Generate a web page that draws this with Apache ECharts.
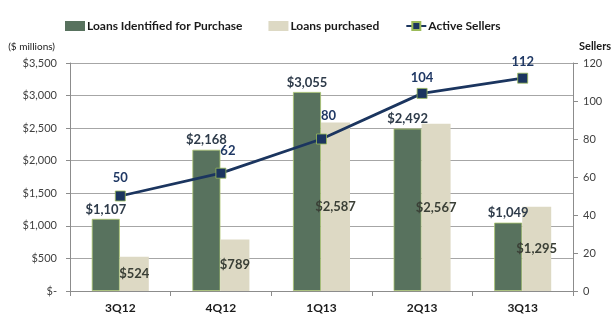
<!DOCTYPE html>
<html>
<head>
<meta charset="utf-8">
<script src="https://cdn.jsdelivr.net/npm/echarts@6/dist/echarts.min.js"></script>
<style>
  html, body { margin: 0; padding: 0; background: #fff; }
  #chart { width: 616px; height: 326px; }
</style>
</head>
<body>
<div id="chart"></div>
<script>
// Quarterly loan activity ($ millions) and number of active sellers
const quarters = ['3Q12', '4Q12', '1Q13', '2Q13', '3Q13'];
const loansIdentified = [1107, 2168, 3055, 2492, 1049];
const loansPurchased = [524, 789, 2587, 2567, 1295];
const activeSellers = [50, 62, 80, 104, 112];

const FONT = 'Lato, "Liberation Sans", sans-serif';
const money = v => '$' + v.toLocaleString('en-US');

// Some seller labels are nudged sideways so they clear the bar labels
const sellerLabelOffsets = [[0, 0], [7, -4], [7, -5], [0, 2], [0, 2]];

const chart = echarts.init(document.getElementById('chart'), null, { renderer: 'canvas' });

chart.setOption({
  animation: false,
  textStyle: { fontFamily: FONT },
  legend: {
    top: 15,
    left: 60,
    itemGap: 26,
    itemWidth: 20,
    itemHeight: 10,
    textStyle: { fontFamily: FONT, fontWeight: 'bold', fontSize: 12, color: '#1a1a1a', padding: [0, 0, 0, -3] },
    data: [
      { name: 'Loans Identified for Purchase', icon: 'rect', itemStyle: { borderWidth: 0 } },
      { name: 'Loans purchased', icon: 'rect' },
      { name: 'Active Sellers' }
    ]
  },
  grid: { left: 70, right: 43, top: 63, bottom: 35 },
  xAxis: {
    type: 'category',
    data: quarters,
    axisLine: { lineStyle: { color: '#8c8c8c', width: 1 } },
    axisTick: { show: true, length: 5, lineStyle: { color: '#8c8c8c' } },
    axisLabel: { color: '#1a1a1a', fontWeight: 'bold', fontSize: 12, margin: 11, fontFamily: FONT }
  },
  yAxis: [
    {
      type: 'value',
      min: 0, max: 3500, interval: 500,
      name: '($ millions)',
      nameLocation: 'end',
      nameGap: 11,
      nameTextStyle: { align: 'right', color: '#1a1a1a', fontSize: 10, padding: [0, 15, 0, 0], fontFamily: FONT },
      axisLine: { show: true, lineStyle: { color: '#8c8c8c' } },
      axisTick: { show: true, length: 4, lineStyle: { color: '#8c8c8c' } },
      axisLabel: {
        color: '#404040', fontSize: 11, margin: 13, fontFamily: FONT,
        formatter: v => v === 0 ? '$-' : money(v)
      },
      splitLine: { show: true, lineStyle: { color: '#a6a6a6', width: 1 } }
    },
    {
      type: 'value',
      min: 0, max: 120, interval: 20,
      name: 'Sellers',
      nameLocation: 'end',
      nameGap: 11,
      nameTextStyle: { align: 'left', color: '#1a1a1a', fontSize: 11, fontWeight: 'bold', padding: [0, 0, 0, 6], fontFamily: FONT },
      axisLine: { show: true, lineStyle: { color: '#8c8c8c' } },
      axisTick: { show: true, length: 5, lineStyle: { color: '#8c8c8c' } },
      axisLabel: { color: '#404040', fontSize: 11, margin: 10, fontFamily: FONT },
      splitLine: { show: false }
    }
  ],
  series: [
    {
      name: 'Loans Identified for Purchase',
      type: 'bar',
      data: loansIdentified,
      barWidth: 28,
      barGap: '0%',
      itemStyle: { color: '#58725e', borderColor: '#a9c46e', borderWidth: 0.8 },
      label: {
        show: true, position: 'top', distance: 3,
        color: '#2e3b4a', fontWeight: 'bold', fontSize: 13, fontFamily: FONT,
        formatter: p => money(p.value)
      }
    },
    {
      name: 'Loans purchased',
      type: 'bar',
      data: loansPurchased,
      barWidth: 29,
      itemStyle: { color: '#ddd9c4' },
      label: {
        show: true, position: 'inside',
        color: '#3a3f36', fontWeight: 'bold', fontSize: 13, fontFamily: FONT,
        formatter: p => money(p.value)
      }
    },
    {
      name: 'Active Sellers',
      type: 'line',
      yAxisIndex: 1,
      data: activeSellers.map((v, i) => ({
        value: v,
        label: { offset: sellerLabelOffsets[i] }
      })),
      symbol: 'rect',
      symbolSize: 10,
      lineStyle: { color: '#1b355f', width: 2.8 },
      itemStyle: { color: '#1b355f', borderColor: '#9bbb59', borderWidth: 0.8 },
      label: {
        show: true, position: 'top', distance: 6,
        color: '#1f3864', fontWeight: 'bold', fontSize: 13, fontFamily: FONT
      },
      z: 5
    }
  ]
});
</script>
</body>
</html>
